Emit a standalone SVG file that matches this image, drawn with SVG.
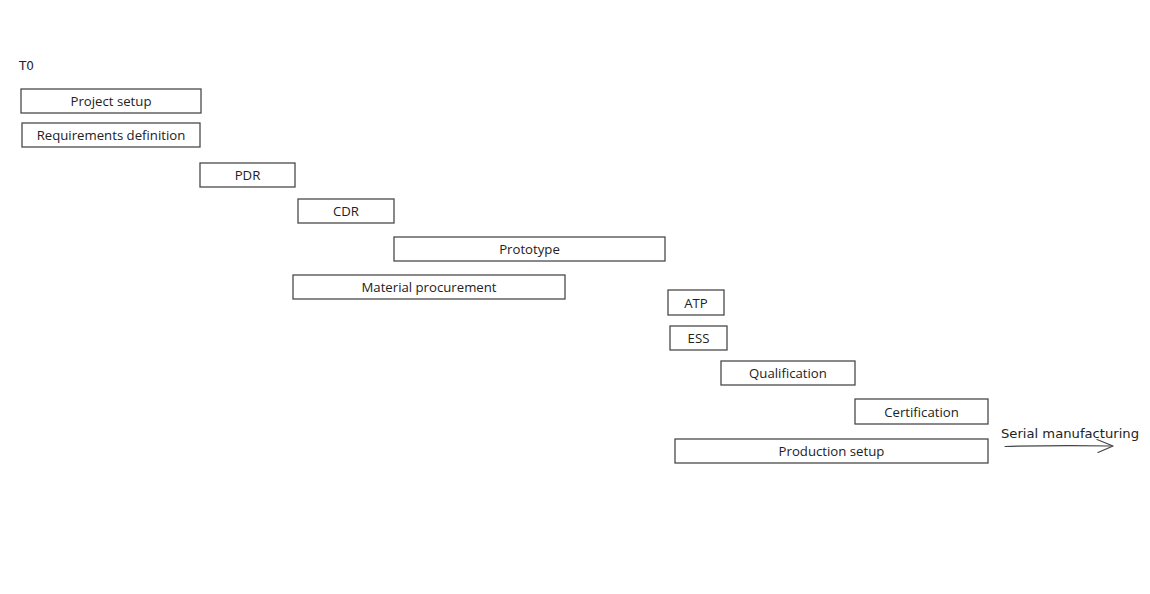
<svg xmlns="http://www.w3.org/2000/svg" width="1150" height="594" viewBox="0 0 1150 594">
<style>
.box{fill:#fff;stroke:#4a4a4a;stroke-width:1.3}
.lbl{font-family:"Open Sans","Noto Sans",sans-serif;font-size:13.2px;fill:#222;text-anchor:middle;dominant-baseline:central}
.hand{font-family:"DejaVu Sans",sans-serif;font-size:12px;fill:#222}
.conn{fill:none;stroke:#444;stroke-width:1.2;stroke-linecap:round;stroke-linejoin:round}
</style>
<rect width="1150" height="594" fill="#fff"/>
<text class="hand" x="19" y="70" font-size="13">T0</text>
<g id="project-setup"><rect class="box" x="21" y="89" width="180" height="24"/><text class="lbl" x="111" y="101">Project setup</text></g>
<g id="requirements-definition"><rect class="box" x="22" y="123" width="178" height="24"/><text class="lbl" x="111" y="135">Requirements definition</text></g>
<g id="pdr"><rect class="box" x="200" y="163" width="95" height="24"/><text class="lbl" x="247.5" y="175">PDR</text></g>
<g id="cdr"><rect class="box" x="298" y="199" width="96" height="24"/><text class="lbl" x="346" y="211">CDR</text></g>
<g id="prototype"><rect class="box" x="394" y="237" width="271" height="24"/><text class="lbl" x="529.5" y="249">Prototype</text></g>
<g id="material-procurement"><rect class="box" x="293" y="275" width="272" height="24"/><text class="lbl" x="429" y="287">Material procurement</text></g>
<g id="atp"><rect class="box" x="668" y="290" width="56" height="25"/><text class="lbl" x="696" y="302.5">ATP</text></g>
<g id="ess"><rect class="box" x="670" y="326" width="57" height="24"/><text class="lbl" x="698.5" y="338">ESS</text></g>
<g id="qualification"><rect class="box" x="721" y="361" width="134" height="24"/><text class="lbl" x="788" y="373">Qualification</text></g>
<g id="certification"><rect class="box" x="855" y="399" width="133" height="25"/><text class="lbl" x="921.5" y="411.5">Certification</text></g>
<g id="production-setup"><rect class="box" x="675" y="439" width="313" height="24"/><text class="lbl" x="831.5" y="451">Production setup</text></g>
<g id="connectors">
<path class="conn" d="M1005 446.5 Q1060 445 1112 446"/>
<path class="conn" d="M1097 439.5 L1113 446 L1098 452.5"/>
<text class="hand" x="1001" y="438" textLength="138" lengthAdjust="spacingAndGlyphs">Serial manufacturing</text>
</g>
</svg>
